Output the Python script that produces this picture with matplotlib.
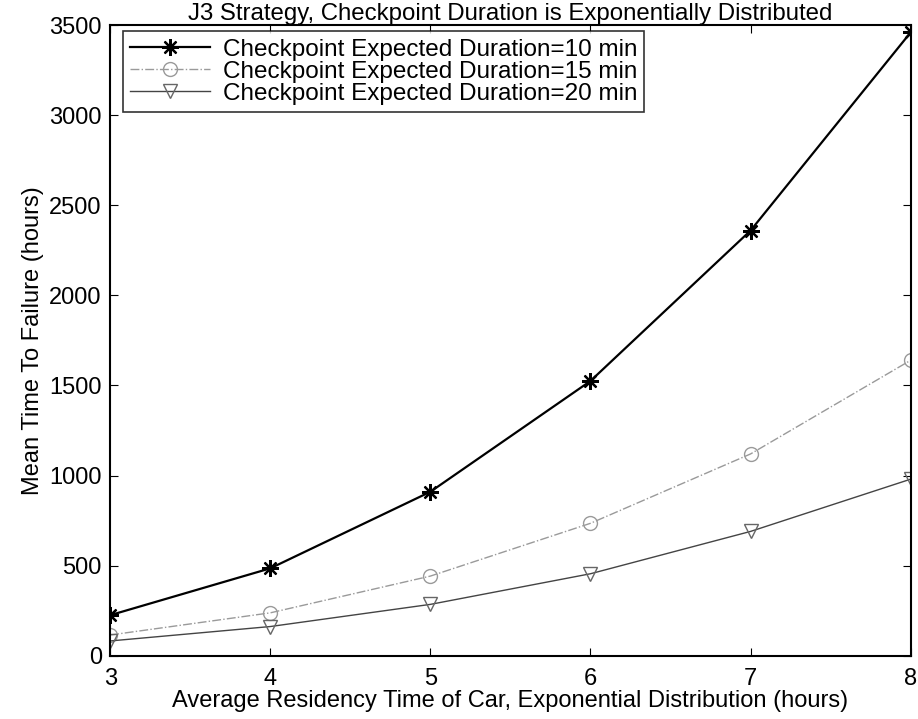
import matplotlib.pyplot as plt

plt.rcParams['font.family'] = ['Liberation Sans', 'DejaVu Sans']

# residency time (hours)
residency = [3, 4, 5, 6, 7, 8]

# mean time to failure (hours)
mttf_10min = [225, 485, 910, 1525, 2360, 3460]
mttf_15min = [115, 238, 442, 735, 1120, 1640]
mttf_20min = [82, 162, 285, 455, 690, 980]

labels = ['Checkpoint Expected Duration=10 min',
          'Checkpoint Expected Duration=15 min',
          'Checkpoint Expected Duration=20 min']

fig = plt.figure(figsize=(9.18, 7.19), dpi=100)
ax = fig.add_axes([0.120, 0.088, 0.872, 0.877])

ax.plot(residency, mttf_10min, color='black', linestyle='-', linewidth=1.6,
        marker=(8, 2, 0), markersize=12, markeredgewidth=1.6, label=labels[0])
ax.plot(residency, mttf_15min, color='#9a9a9a', linestyle='-.', linewidth=1.0,
        marker='o', markersize=10, markerfacecolor='none', markeredgecolor='#9a9a9a',
        label=labels[1])
ax.plot(residency, mttf_20min, color='#444444', linestyle='-', linewidth=1.0,
        marker='v', markersize=10, markerfacecolor='none', markeredgecolor='#666666',
        label=labels[2])

ax.set_xlim(3, 8)
ax.set_ylim(0, 3500)
ax.set_xticks(residency)
ax.set_yticks(range(0, 3501, 500))
ax.tick_params(direction='in', top=True, right=True, length=6, labelsize=17)
ax.tick_params(axis='x', pad=9)
ax.tick_params(axis='y', pad=6)
for s in ax.spines.values():
    s.set_linewidth(1.5)

ax.set_title('J3 Strategy, Checkpoint Duration is Exponentially Distributed',
             fontsize=17.3, pad=4)
ax.set_xlabel('Average Residency Time of Car, Exponential Distribution (hours)',
              fontsize=17, labelpad=0)
ax.set_ylabel('Mean Time To Failure (hours)', fontsize=17, labelpad=4)

leg = ax.legend(loc='upper left', bbox_to_anchor=(0.016, 0.99), borderaxespad=0,
                fontsize=17.5, frameon=True, fancybox=False, edgecolor='black',
                handlelength=3.3, borderpad=0.3, labelspacing=0.0,
                handletextpad=0.5)
leg.get_frame().set_linewidth(1.2)

fig.savefig('out.png', dpi=100)
